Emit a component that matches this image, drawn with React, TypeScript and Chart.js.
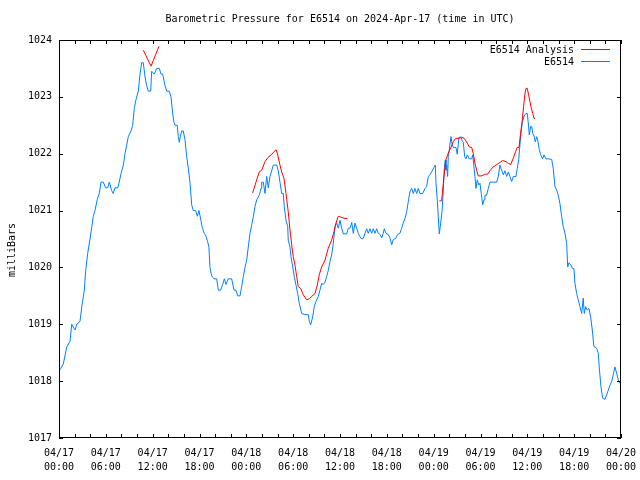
import React, { useEffect, useRef } from "react";
import { Chart, registerables } from "chart.js";

Chart.register(...registerables);

const titleText = "Barometric Pressure for E6514 on 2024-Apr-17 (time in UTC)";
const yAxisTitle = "milliBars";
const analysisLabel = "E6514 Analysis";
const stationLabel = "E6514";

const tickDates = ["04/17", "04/17", "04/17", "04/17", "04/18", "04/18", "04/18", "04/18", "04/19", "04/19", "04/19", "04/19", "04/20"];
const tickTimes = ["00:00", "06:00", "12:00", "18:00", "00:00", "06:00", "12:00", "18:00", "00:00", "06:00", "12:00", "18:00", "00:00"];

// hours since 2024-04-17 00:00 UTC
const stationHours = [
  0.13, 0.55, 0.99, 1.41, 1.63, 2.05, 2.27, 2.69, 2.91, 3.24, 3.42, 3.68, 3.97, 4.19, 4.39, 4.61, 4.91, 5.16, 5.38, 5.67,
  5.98, 6.24, 6.44, 6.75, 6.95, 7.17, 7.52, 7.72, 7.94, 8.24, 8.45, 8.67, 8.88, 9.22, 9.44, 9.65, 9.86, 10.16, 10.38, 10.59,
  10.8, 11.02, 11.23, 11.44, 11.75, 11.87, 12.21, 12.52, 12.85, 13.07, 13.28, 13.58, 13.8, 14.13, 14.35, 14.57, 14.73, 14.86, 15.15, 15.28,
  15.41, 15.54, 15.72, 15.92, 16.14, 16.36, 16.56, 16.78, 17.0, 17.2, 17.51, 17.72, 17.93, 18.15, 18.36, 18.61, 18.83, 19.05, 19.21, 19.34,
  19.56, 19.86, 20.2, 20.41, 20.71, 20.97, 21.18, 21.39, 21.69, 22.12, 22.42, 22.67, 22.89, 23.19, 23.4, 23.61, 23.83, 24.05, 24.25, 24.47,
  24.69, 24.89, 25.11, 25.33, 25.66, 25.88, 25.97, 26.17, 26.39, 26.61, 26.81, 27.03, 27.25, 27.45, 27.89, 28.09, 28.31, 28.53, 28.73, 28.86,
  29.08, 29.3, 29.37, 29.59, 29.72, 29.94, 30.14, 30.36, 30.58, 30.78, 31.09, 31.51, 31.94, 32.07, 32.24, 32.5, 32.7, 32.92, 33.22, 33.43,
  33.65, 33.86, 34.08, 34.29, 34.5, 34.71, 34.93, 35.14, 35.36, 35.57, 35.78, 36.0, 36.21, 36.42, 36.86, 37.06, 37.28, 37.5, 37.7, 37.92,
  38.14, 38.34, 38.56, 38.78, 38.98, 39.2, 39.42, 39.62, 39.84, 40.06, 40.26, 40.48, 40.7, 40.9, 41.12, 41.34, 41.54, 41.67, 41.89, 42.18,
  42.4, 42.62, 42.82, 43.13, 43.39, 43.68, 43.9, 44.1, 44.32, 44.54, 44.75, 44.96, 45.18, 45.39, 45.6, 45.82, 46.03, 46.24, 46.59, 46.89,
  47.1, 47.31, 47.53, 47.74, 48.04, 48.21, 48.3, 48.46, 48.59, 48.72, 48.9, 49.07, 49.23, 49.36, 49.49, 49.58, 49.67, 49.79, 49.87, 50.0,
  50.22, 50.35, 50.51, 50.86, 51.02, 51.24, 51.5, 51.67, 51.8, 51.97, 52.14, 52.31, 52.56, 52.87, 53.0, 53.16, 53.29, 53.42, 53.59, 53.77,
  53.93, 54.1, 54.28, 54.45, 54.57, 54.79, 55.0, 55.21, 55.64, 56.07, 56.28, 56.49, 56.71, 56.92, 57.14, 57.35, 57.56, 57.77, 57.99, 58.2,
  58.54, 58.71, 58.89, 59.05, 59.18, 59.35, 59.57, 59.83, 59.99, 60.12, 60.25, 60.43, 60.56, 60.69, 60.86, 61.02, 61.2, 61.36, 61.53, 61.71,
  61.96, 62.13, 62.39, 62.68, 63.12, 63.32, 63.54, 63.76, 63.96, 64.18, 64.4, 64.6, 64.82, 65.04, 65.17, 65.33, 65.55, 65.81, 65.97, 66.1,
  66.32, 66.52, 66.74, 66.96, 67.16, 67.29, 67.47, 67.67, 67.89, 68.11, 68.32, 68.53, 68.88, 69.09, 69.21, 69.43, 69.65, 69.94, 70.16, 70.37,
  70.59, 70.8, 71.0, 71.22, 71.44, 71.66, 71.88,
];

const stationPressure = [
  1018.2, 1018.3, 1018.6, 1018.7, 1019.0, 1018.9, 1019.0, 1019.05, 1019.3, 1019.6, 1019.95, 1020.25, 1020.5, 1020.7, 1020.9, 1021.0, 1021.2, 1021.3, 1021.5, 1021.5,
  1021.4, 1021.4, 1021.5, 1021.35, 1021.3, 1021.4, 1021.4, 1021.5, 1021.65, 1021.8, 1022.0, 1022.15, 1022.3, 1022.4, 1022.5, 1022.8, 1022.95, 1023.1, 1023.4, 1023.6,
  1023.6, 1023.35, 1023.2, 1023.1, 1023.1, 1023.45, 1023.4, 1023.5, 1023.5, 1023.4, 1023.4, 1023.2, 1023.1, 1023.1, 1023.0, 1022.7, 1022.55, 1022.5, 1022.5, 1022.3,
  1022.2, 1022.3, 1022.4, 1022.4, 1022.25, 1021.95, 1021.75, 1021.5, 1021.1, 1021.0, 1021.0, 1020.9, 1021.0, 1020.85, 1020.7, 1020.6, 1020.55, 1020.45, 1020.35, 1020.0,
  1019.85, 1019.8, 1019.8, 1019.6, 1019.6, 1019.7, 1019.8, 1019.7, 1019.8, 1019.8, 1019.6, 1019.6, 1019.5, 1019.5, 1019.66, 1019.84, 1020.0, 1020.13, 1020.36, 1020.6,
  1020.75, 1020.89, 1021.07, 1021.19, 1021.27, 1021.39, 1021.5, 1021.5, 1021.3, 1021.6, 1021.4, 1021.6, 1021.7, 1021.8, 1021.8, 1021.7, 1021.5, 1021.3, 1021.3, 1021.07,
  1020.83, 1020.72, 1020.48, 1020.36, 1020.19, 1020.01, 1019.84, 1019.69, 1019.54, 1019.37, 1019.19, 1019.17, 1019.17, 1019.05, 1018.99, 1019.13, 1019.31, 1019.4, 1019.49, 1019.6,
  1019.72, 1019.7, 1019.74, 1019.84, 1019.95, 1020.1, 1020.22, 1020.42, 1020.72, 1020.78, 1020.69, 1020.83, 1020.69, 1020.59, 1020.59, 1020.69, 1020.69, 1020.79, 1020.6, 1020.78,
  1020.69, 1020.6, 1020.54, 1020.5, 1020.51, 1020.6, 1020.68, 1020.6, 1020.68, 1020.6, 1020.68, 1020.6, 1020.68, 1020.6, 1020.58, 1020.52, 1020.6, 1020.68, 1020.6, 1020.58,
  1020.52, 1020.4, 1020.49, 1020.51, 1020.58, 1020.6, 1020.69, 1020.78, 1020.86, 1020.98, 1021.16, 1021.33, 1021.39, 1021.3, 1021.39, 1021.3, 1021.39, 1021.3, 1021.3, 1021.39,
  1021.42, 1021.6, 1021.63, 1021.68, 1021.76, 1021.8, 1021.48, 1021.19, 1020.89, 1020.59, 1020.78, 1020.98, 1021.36, 1021.74, 1021.89, 1021.71, 1021.8, 1021.6, 1021.95, 1022.07,
  1022.3, 1022.18, 1022.11, 1022.11, 1021.99, 1022.29, 1022.29, 1022.22, 1022.2, 1021.95, 1021.91, 1021.98, 1021.91, 1021.91, 1021.98, 1021.77, 1021.6, 1021.39, 1021.54, 1021.45,
  1021.48, 1021.3, 1021.1, 1021.19, 1021.27, 1021.27, 1021.39, 1021.5, 1021.5, 1021.5, 1021.6, 1021.8, 1021.71, 1021.63, 1021.7, 1021.6, 1021.68, 1021.6, 1021.51, 1021.6,
  1021.6, 1021.74, 1021.89, 1022.15, 1022.36, 1022.54, 1022.66, 1022.71, 1022.71, 1022.54, 1022.33, 1022.48, 1022.48, 1022.36, 1022.31, 1022.21, 1022.3, 1022.22, 1022.07, 1021.98,
  1021.91, 1021.98, 1021.91, 1021.91, 1021.9, 1021.74, 1021.42, 1021.36, 1021.27, 1021.12, 1020.89, 1020.72, 1020.6, 1020.42, 1020.01, 1020.08, 1020.05, 1019.98, 1019.98, 1019.72,
  1019.54, 1019.43, 1019.31, 1019.19, 1019.46, 1019.19, 1019.31, 1019.25, 1019.28, 1019.13, 1018.9, 1018.61, 1018.58, 1018.49, 1018.25, 1017.9, 1017.7, 1017.68, 1017.76, 1017.84,
  1017.93, 1017.99, 1018.11, 1018.25, 1018.14, 1018.02, 1017.96,
];

// analysis series: null pressure marks a gap between runs
const analysisHours = [
  10.8, 11.79, 12.81,
  18.0,
  24.81, 25.33, 25.66, 25.97, 26.39, 26.74, 27.25, 27.8, 27.97, 28.31, 28.53, 28.82, 29.08, 29.37, 29.59, 29.81,
  30.01, 30.23, 30.45, 30.66, 30.96, 31.29, 31.73, 32.06, 32.37, 32.79, 33.09, 33.34, 33.65, 34.08, 34.5, 34.93,
  35.23, 35.48, 35.78, 36.21, 36.64, 36.93,
  42.0,
  48.72, 49.02, 49.23, 49.45, 49.58, 49.87, 50.18, 50.51, 50.82, 51.28, 51.58, 51.91, 52.21, 52.56, 52.87, 53.07,
  53.29, 53.51, 53.71, 54.15, 54.57, 54.92, 55.21, 55.56, 55.98, 56.41, 56.84, 57.26, 57.56, 57.87, 58.2, 58.5,
  58.71, 58.93, 59.14, 59.35, 59.52, 59.7, 59.83, 59.99, 60.17, 60.33, 60.51, 60.69, 60.86, 60.99,
];

const analysisPressure = [
  1023.82, 1023.54, 1023.89,
  null,
  1021.31, 1021.54, 1021.68, 1021.71, 1021.86, 1021.93, 1021.99, 1022.07, 1022.01, 1021.8, 1021.68, 1021.57, 1021.3, 1020.98, 1020.66, 1020.4,
  1020.19, 1020.04, 1019.84, 1019.66, 1019.63, 1019.52, 1019.43, 1019.45, 1019.49, 1019.54, 1019.69, 1019.87, 1020.01, 1020.13, 1020.34, 1020.48,
  1020.63, 1020.78, 1020.9, 1020.88, 1020.86, 1020.86,
  null,
  1021.17, 1021.17, 1021.48, 1021.77, 1021.9, 1022.01, 1022.1, 1022.21, 1022.27, 1022.27, 1022.29, 1022.27, 1022.21, 1022.12, 1022.11, 1022.01,
  1021.83, 1021.71, 1021.61, 1021.61, 1021.64, 1021.64, 1021.7, 1021.76, 1021.8, 1021.84, 1021.88, 1021.86, 1021.83, 1021.81, 1021.92, 1022.04,
  1022.11, 1022.11, 1022.36, 1022.59, 1022.83, 1023.06, 1023.15, 1023.15, 1023.03, 1022.92, 1022.8, 1022.71, 1022.62, 1022.62,
];

const FONT = "'DejaVu Sans Mono', monospace";
const RED = "#ff0000";
const BLUE = "#0080ff";

const decorPlugin = {
  id: "gnuplotDecor",
  afterDraw(chart: any) {
    const { ctx, chartArea } = chart;
    const { left, right, top, bottom } = chartArea;
    const xs = chart.scales.x;
    const ys = chart.scales.y;
    ctx.save();
    ctx.strokeStyle = "#000";
    ctx.lineWidth = 1;
    // border
    ctx.strokeRect(Math.round(left) + 0.5, Math.round(top) + 0.5, Math.round(right - left) - 1, Math.round(bottom - top) - 1);
    // x ticks (inward, mirrored)
    ctx.beginPath();
    xs.ticks.forEach((t: any) => {
      const px = Math.round(xs.getPixelForValue(t.value)) + 0.5;
      ctx.moveTo(px, bottom);
      ctx.lineTo(px, bottom - 4);
      ctx.moveTo(px, top);
      ctx.lineTo(px, top + 4);
    });
    ys.ticks.forEach((t: any) => {
      const py = Math.round(ys.getPixelForValue(t.value)) + 0.5;
      ctx.moveTo(left, py);
      ctx.lineTo(left + 4, py);
      ctx.moveTo(right, py);
      ctx.lineTo(right - 4, py);
    });
    ctx.stroke();

    // title
    ctx.fillStyle = "#000";
    ctx.font = `10px ${FONT}`;
    ctx.textAlign = "center";
    ctx.textBaseline = "middle";
    ctx.fillText(titleText, (left + right) / 2, 19);

    // y axis title
    ctx.save();
    ctx.translate(12, 250);
    ctx.rotate(-Math.PI / 2);
    ctx.fillText(yAxisTitle, 0, 0);
    ctx.restore();

    // legend
    ctx.textAlign = "right";
    const rows = [
      { label: analysisLabel, color: RED, y: 49 },
      { label: stationLabel, color: BLUE, y: 61 },
    ];
    rows.forEach((r) => {
      ctx.fillStyle = "#000";
      ctx.fillText(r.label, right - 47, r.y + 1);
      ctx.strokeStyle = r.color;
      ctx.beginPath();
      ctx.moveTo(right - 40, r.y + 0.5);
      ctx.lineTo(right - 11, r.y + 0.5);
      ctx.stroke();
    });
    ctx.restore();
  },
};

export default function App() {
  const canvasRef = useRef<HTMLCanvasElement | null>(null);

  useEffect(() => {
    if (!canvasRef.current) return;
    const stationData = stationHours.map((h, i) => ({ x: h, y: stationPressure[i] }));
    const analysisData = analysisHours.map((h, i) => ({ x: h, y: analysisPressure[i] }));
    const chart = new Chart(canvasRef.current, {
      type: "line",
      data: {
        datasets: [
          {
            label: analysisLabel,
            data: analysisData as any,
            borderColor: RED,
            backgroundColor: RED,
            borderWidth: 1,
            pointRadius: 0,
            tension: 0,
            spanGaps: false,
          },
          {
            label: stationLabel,
            data: stationData as any,
            borderColor: BLUE,
            backgroundColor: BLUE,
            borderWidth: 1,
            pointRadius: 0,
            tension: 0,
          },
        ],
      },
      options: {
        animation: false,
        responsive: false,
        maintainAspectRatio: false,
        devicePixelRatio: 1,
        layout: { padding: { top: 40, right: 19, left: 0, bottom: 0 } },
        plugins: {
          legend: { display: false },
          title: { display: false },
          tooltip: { enabled: false },
        },
        scales: {
          x: {
            type: "linear",
            min: 0,
            max: 72,
            afterFit: (scale: any) => {
              scale.height = 42;
              scale.paddingLeft = 0;
              scale.paddingRight = 0;
            },
            grid: { display: true, drawOnChartArea: false, drawTicks: false, color: "rgba(0,0,0,0)" },
            border: { display: false },
            ticks: {
              stepSize: 2,
              autoSkip: false,
              maxRotation: 0,
              minRotation: 0,
              padding: 8,
              color: "#000",
              font: { family: FONT, size: 10, lineHeight: 1.45 },
              callback: (v: any) => {
                const n = Number(v);
                if (n % 6 !== 0) return "";
                const idx = n / 6;
                return [tickDates[idx], tickTimes[idx]];
              },
            },
          },
          y: {
            type: "linear",
            min: 1017,
            max: 1024,
            afterFit: (scale: any) => {
              scale.width = 59;
              scale.paddingTop = 0;
              scale.paddingBottom = 0;
            },
            grid: { display: true, drawOnChartArea: false, drawTicks: false, color: "rgba(0,0,0,0)" },
            border: { display: false },
            ticks: {
              stepSize: 1,
              padding: 7,
              color: "#000",
              font: { family: FONT, size: 10 },
              callback: (v: any) => String(v),
            },
          },
        },
      },
      plugins: [decorPlugin],
    });
    return () => chart.destroy();
  }, []);

  return (
    <div style={{ position: "fixed", left: 0, top: 0, width: 640, height: 480, background: "#fff" }}>
      <canvas ref={canvasRef} width={640} height={480} style={{ width: 640, height: 480 }} />
    </div>
  );
}
